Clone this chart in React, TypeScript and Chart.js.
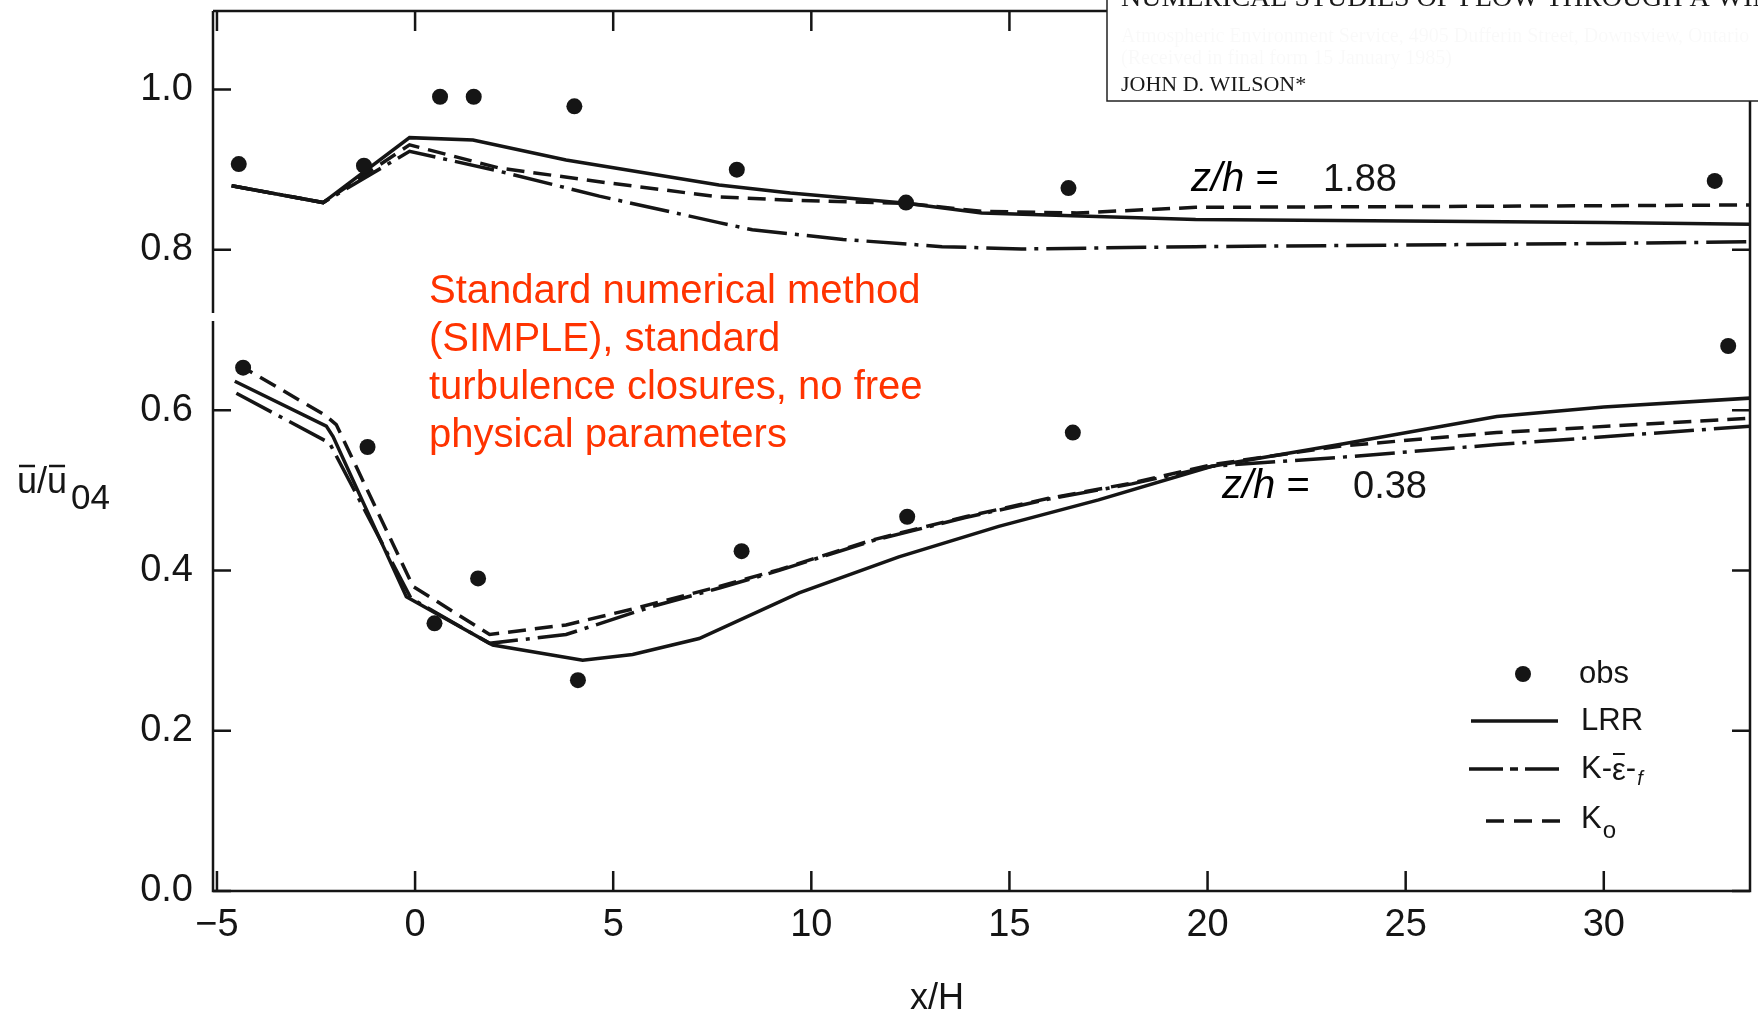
import React, { useEffect, useRef } from "react";
import { Chart, registerables } from "chart.js";

Chart.register(...registerables);

// ---- tick values -------------------------------------------------------
const X_TICKS = [-5, 0, 5, 10, 15, 20, 25, 30];
const Y_TICKS = [0.0, 0.2, 0.4, 0.6, 0.8, 1.0];

// ---- z/h = 1.88 --------------------------------------------------------
const obsUpperX = [-4.45, -1.29, 0.63, 1.48, 4.02, 8.12, 12.39, 16.49, 32.8];
const obsUpperU = [0.907, 0.905, 0.991, 0.991, 0.979, 0.9, 0.859, 0.877, 0.886];

const lrrUpperX = [-4.63, -2.32, -0.14, 1.46, 3.81, 7.67, 9.47, 12.4, 14.3, 19.7, 25, 30, 33.7];
const lrrUpperU = [0.88, 0.859, 0.94, 0.937, 0.912, 0.881, 0.871, 0.858, 0.846, 0.838, 0.836, 0.834, 0.832];

const kefUpperX = [-4.63, -2.32, -0.14, 2.13, 4.65, 7.67, 8.51, 10.8, 13.3, 15.3, 19.7, 25, 30, 33.7];
const kefUpperU = [0.88, 0.859, 0.923, 0.898, 0.867, 0.834, 0.825, 0.813, 0.804, 0.801, 0.804, 0.806, 0.808, 0.81];

const k0UpperX = [-4.63, -2.32, -0.14, 2.13, 4.65, 7.67, 9.47, 12.4, 14.3, 16.7, 19.7, 25, 30, 33.7];
const k0UpperU = [0.88, 0.859, 0.931, 0.902, 0.885, 0.866, 0.862, 0.858, 0.848, 0.846, 0.853, 0.854, 0.855, 0.856];

// ---- z/h = 0.38 --------------------------------------------------------
const obsLowerX = [-4.34, -1.2, 0.49, 1.59, 4.11, 8.24, 12.42, 16.6, 33.14];
const obsLowerU = [0.653, 0.554, 0.334, 0.39, 0.263, 0.424, 0.467, 0.572, 0.68];

const lrrLowerX = [-4.55, -2.24, -2.07, -0.22, 1.96, 4.23, 5.49, 7.17, 9.69, 12.21, 14.73, 17.25, 20.11, 23.33, 27.3, 30, 33.7];
const lrrLowerU = [0.636, 0.58, 0.567, 0.367, 0.307, 0.288, 0.295, 0.315, 0.372, 0.417, 0.455, 0.488, 0.53, 0.557, 0.592, 0.604, 0.615];

const kefLowerX = [-4.51, -2.16, -0.1, 1.88, 3.81, 5.99, 7.68, 9.19, 11.54, 13.89, 15.99, 18.09, 20.11, 23.33, 27.3, 33.7];
const kefLowerU = [0.621, 0.559, 0.365, 0.309, 0.32, 0.355, 0.378, 0.4, 0.437, 0.466, 0.489, 0.508, 0.53, 0.541, 0.557, 0.58];

const k0LowerX = [-4.5, -2.28, -1.99, -0.05, 1.88, 3.81, 5.5, 7.68, 9.19, 11.54, 13.89, 15.99, 18.09, 20.11, 23.33, 27.3, 33.7];
const k0LowerU = [0.658, 0.594, 0.582, 0.38, 0.32, 0.332, 0.352, 0.38, 0.401, 0.438, 0.467, 0.49, 0.509, 0.532, 0.555, 0.572, 0.59];

const SANS = '"Liberation Sans", Arial, Helvetica, sans-serif';
const SERIF = '"Liberation Serif", "DejaVu Serif", serif';
const INK = "#151515";
const RED = "#ff3300";
const DASH = [18, 9];
const DASH_DOT = [40, 8, 4, 8];

const pts = (xs: number[], ys: number[]) => xs.map((x, i) => ({ x, y: ys[i] }));

const lineSet = (label: string, xs: number[], ys: number[], dash: number[]) => ({
  label,
  data: pts(xs, ys),
  showLine: true,
  borderColor: INK,
  borderWidth: 3.5,
  borderDash: dash,
  pointRadius: 0,
  tension: 0,
  fill: false,
});

const obsSet = (label: string, xs: number[], ys: number[]) => ({
  label,
  data: pts(xs, ys),
  showLine: false,
  pointRadius: 8,
  pointBackgroundColor: INK,
  pointBorderWidth: 0,
  borderColor: INK,
});

// frame, inward ticks, annotations and the key
const decorations = {
  id: "decorations",
  afterDraw(chart: any) {
    const ctx: CanvasRenderingContext2D = chart.ctx;
    const { left, right, top, bottom } = chart.chartArea;
    const xs = chart.scales.x;
    const ys = chart.scales.y;
    ctx.save();

    // frame
    ctx.strokeStyle = INK;
    ctx.lineWidth = 2.5;
    ctx.setLineDash([]);
    ctx.beginPath();
    ctx.moveTo(left, top);
    ctx.lineTo(left, 313);
    ctx.moveTo(left, 321);
    ctx.lineTo(left, bottom);
    ctx.lineTo(right, bottom);
    ctx.lineTo(right, top);
    ctx.lineTo(left, top);
    ctx.stroke();

    // inward tick marks
    ctx.lineWidth = 2.5;
    ctx.beginPath();
    for (const v of X_TICKS) {
      const px = xs.getPixelForValue(v);
      ctx.moveTo(px, bottom);
      ctx.lineTo(px, bottom - 20);
      ctx.moveTo(px, top);
      ctx.lineTo(px, top + 20);
    }
    for (const v of Y_TICKS) {
      const py = ys.getPixelForValue(v);
      ctx.moveTo(left, py);
      ctx.lineTo(left + 18, py);
      ctx.moveTo(right, py);
      ctx.lineTo(right - 18, py);
    }
    ctx.stroke();

    // paper header box in the upper right
    ctx.fillStyle = "#ffffff";
    ctx.fillRect(1107, -4, 700, 105);
    ctx.strokeStyle = "#222";
    ctx.lineWidth = 1.5;
    ctx.strokeRect(1107, -4, 700, 105);
    ctx.fillStyle = "#1a1a1a";
    ctx.textBaseline = "alphabetic";
    ctx.textAlign = "left";
    ctx.font = `28px ${SERIF}`;
    ctx.fillText("NUMERICAL STUDIES OF FLOW THROUGH A WINDBREAK", 1121, 6);
    ctx.fillStyle = "rgba(0,0,0,0.025)";
    ctx.font = `20px ${SERIF}`;
    ctx.fillText("Atmospheric Environment Service, 4905 Dufferin Street, Downsview, Ontario", 1121, 42);
    ctx.fillText("(Received in final form 15 January 1985)", 1121, 64);
    ctx.fillStyle = "#1a1a1a";
    ctx.font = `22px ${SERIF}`;
    ctx.fillText("JOHN D. WILSON*", 1121, 91);

    // red annotation
    ctx.fillStyle = RED;
    ctx.font = `40px ${SANS}`;
    const note = [
      "Standard numerical method",
      "(SIMPLE), standard",
      "turbulence closures, no free",
      "physical parameters",
    ];
    note.forEach((t, i) => ctx.fillText(t, 429, 303 + i * 48));

    // level labels
    const level = (x: number, y: number, val: string, vx: number) => {
      ctx.fillStyle = "#000";
      ctx.font = `italic 40px ${SANS}`;
      ctx.fillText("z/h", x, y);
      const w = ctx.measureText("z/h").width;
      ctx.font = `40px ${SANS}`;
      ctx.fillText(" =", x + w, y);
      ctx.fillStyle = INK;
      ctx.font = `38px ${SANS}`;
      ctx.fillText(val, vx, y);
    };
    level(1191, 191, "1.88", 1323);
    level(1222, 498, "0.38", 1353);

    // axis titles
    ctx.fillStyle = INK;
    ctx.font = `36px ${SANS}`;
    ctx.textAlign = "center";
    ctx.fillText("x/H", 937, 1009);
    ctx.textAlign = "left";
    ctx.fillText("u/u", 17, 493);
    const uW = ctx.measureText("u").width;
    const slashW = ctx.measureText("/").width;
    ctx.lineWidth = 2.5;
    ctx.strokeStyle = INK;
    ctx.beginPath();
    ctx.moveTo(19, 466);
    ctx.lineTo(17 + uW - 2, 466);
    ctx.moveTo(17 + uW + slashW + 2, 466);
    ctx.lineTo(17 + 2 * uW + slashW - 2, 466);
    ctx.stroke();
    ctx.font = `35px ${SANS}`;
    ctx.fillText("04", 71, 509);

    // key
    ctx.font = `31px ${SANS}`;
    ctx.textBaseline = "middle";
    ctx.fillStyle = INK;
    ctx.beginPath();
    ctx.arc(1523, 674, 8, 0, Math.PI * 2);
    ctx.fill();
    ctx.fillText("obs", 1579, 674);

    ctx.lineWidth = 3.5;
    ctx.beginPath();
    ctx.moveTo(1471, 721);
    ctx.lineTo(1558, 721);
    ctx.stroke();
    ctx.fillText("LRR", 1581, 721);

    ctx.setLineDash([34, 7, 8, 7]);
    ctx.beginPath();
    ctx.moveTo(1469, 769);
    ctx.lineTo(1565, 769);
    ctx.stroke();
    let cx = 1581;
    ctx.fillText("K-", cx, 769);
    cx += ctx.measureText("K-").width;
    const epsW = ctx.measureText("ε").width;
    ctx.fillText("ε", cx, 771);
    ctx.setLineDash([]);
    ctx.lineWidth = 2;
    ctx.beginPath();
    ctx.moveTo(cx + 1, 754);
    ctx.lineTo(cx + epsW - 1, 754);
    ctx.stroke();
    cx += epsW;
    ctx.fillText("-", cx, 769);
    cx += ctx.measureText("-").width;
    ctx.font = `italic 20px ${SANS}`;
    ctx.fillText("f", cx + 1, 779);

    ctx.lineWidth = 3.5;
    ctx.setLineDash([18, 10]);
    ctx.beginPath();
    ctx.moveTo(1486, 821);
    ctx.lineTo(1564, 821);
    ctx.stroke();
    ctx.setLineDash([]);
    ctx.font = `31px ${SANS}`;
    ctx.fillText("K", 1581, 819);
    const kW = ctx.measureText("K").width;
    ctx.font = `24px ${SANS}`;
    ctx.fillText("o", 1581 + kW + 1, 831);

    ctx.restore();
  },
};

export default function App() {
  const canvasRef = useRef<HTMLCanvasElement>(null);

  useEffect(() => {
    document.body.style.margin = "0";
    const canvas = canvasRef.current;
    if (!canvas) return;

    const chart = new Chart(canvas, {
      type: "scatter",
      data: {
        datasets: [
          obsSet("obs 1.88", obsUpperX, obsUpperU),
          obsSet("obs 0.38", obsLowerX, obsLowerU),
          lineSet("LRR 1.88", lrrUpperX, lrrUpperU, []),
          lineSet("K-e-f 1.88", kefUpperX, kefUpperU, DASH_DOT),
          lineSet("K0 1.88", k0UpperX, k0UpperU, DASH),
          lineSet("LRR 0.38", lrrLowerX, lrrLowerU, []),
          lineSet("K-e-f 0.38", kefLowerX, kefLowerU, DASH_DOT),
          lineSet("K0 0.38", k0LowerX, k0LowerU, DASH),
        ] as any,
      },
      options: {
        responsive: false,
        maintainAspectRatio: false,
        devicePixelRatio: 1,
        animation: false,
        layout: { padding: { top: 11, right: 6, left: 0, bottom: 0 } },
        plugins: {
          legend: { display: false },
          tooltip: { enabled: false },
        },
        scales: {
          x: {
            type: "linear",
            min: -5.1,
            max: 33.69,
            grid: { display: false, drawTicks: false },
            border: { display: false },
            afterBuildTicks: (s: any) => {
              s.ticks = X_TICKS.map((v) => ({ value: v }));
            },
            afterFit: (s: any) => {
              s.height = 126;
              s.paddingLeft = 0;
              s.paddingRight = 0;
            },
            ticks: {
              autoSkip: false,
              maxRotation: 0,
              padding: 12,
              color: INK,
              font: { family: SANS, size: 38 },
              callback: (v: any) => (Number(v) < 0 ? "\u2212" + Math.abs(Number(v)) : String(v)),
            },
          },
          y: {
            type: "linear",
            min: 0,
            max: 1.098,
            grid: { display: false, drawTicks: false },
            border: { display: false },
            afterBuildTicks: (s: any) => {
              s.ticks = Y_TICKS.map((v) => ({ value: v }));
            },
            afterFit: (s: any) => {
              s.width = 213;
              s.paddingTop = 0;
              s.paddingBottom = 0;
            },
            ticks: {
              autoSkip: false,
              padding: 20,
              color: INK,
              font: { family: SANS, size: 38 },
              callback: (v: any) => Number(v).toFixed(1),
            },
          },
        },
      } as any,
      plugins: [decorations],
    });

    return () => chart.destroy();
  }, []);

  return (
    <div style={{ width: 1758, height: 1017, background: "#fff" }}>
      <canvas
        ref={canvasRef}
        width={1758}
        height={1017}
        style={{ display: "block", width: 1758, height: 1017 }}
      />
    </div>
  );
}
